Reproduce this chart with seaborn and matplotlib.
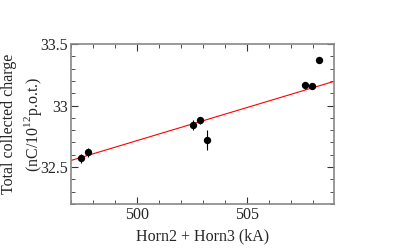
import numpy as np
import pandas as pd
import matplotlib
matplotlib.use('Agg')
import matplotlib.pyplot as plt
import seaborn as sns
from matplotlib.ticker import MultipleLocator

sns.set_style('ticks')
plt.rcParams['font.family'] = ['Liberation Serif', 'DejaVu Serif']
plt.rcParams['mathtext.fontset'] = 'custom'
plt.rcParams['mathtext.rm'] = 'Liberation Serif'

# horn current sum (kA) vs total collected charge
horn_current = [497.45, 497.77, 502.55, 502.87, 503.17, 507.65, 507.95, 508.25]
charge = [32.57, 32.62, 32.84, 32.88, 32.72, 33.165, 33.155, 33.37]
charge_err = [0.04, 0.035, 0.04, 0.03, 0.085, 0.03, 0.02, 0.015]

# linear fit shown in red
fit_slope = 0.0538
fit_at_500 = 32.715

df = pd.DataFrame({'current': horn_current, 'charge': charge, 'err': charge_err})

fig = plt.figure(figsize=(3.99, 2.49), dpi=100)
ax = fig.add_axes([0.178, 0.181, 0.659, 0.642])

xlim = (497.0, 508.95)
fit_x = np.array(xlim)
fit_df = pd.DataFrame({'x': fit_x, 'y': fit_at_500 + fit_slope * (fit_x - 500)})
sns.lineplot(data=fit_df, x='x', y='y', color='red', lw=0.8, ax=ax)

ax.errorbar(df['current'], df['charge'], yerr=df['err'], fmt='none',
            ecolor='black', elinewidth=0.8, capsize=0)
sns.scatterplot(data=df, x='current', y='charge', color='black', s=28,
                edgecolor='black', linewidth=0, ax=ax, zorder=3)

ax.set_xlim(*xlim)
ax.set_ylim(32.2, 33.5)
ax.xaxis.set_major_locator(MultipleLocator(5))
ax.xaxis.set_minor_locator(MultipleLocator(1))
ax.yaxis.set_major_locator(MultipleLocator(0.5))
ax.yaxis.set_minor_locator(MultipleLocator(0.1))
ax.set_yticks([32.5, 33.0, 33.5])
ax.set_yticklabels(['32.5', '33', '33.5'])

ax.tick_params(which='both', direction='in', top=True, right=True,
               labelsize=11.5, color='#333333')
ax.tick_params(which='major', length=5, width=0.8, pad=2)
ax.tick_params(which='minor', length=3, width=0.6)
for sp in ax.spines.values():
    sp.set_color('#888888')
    sp.set_linewidth(1.2)

ax.set_xlabel('Horn2 + Horn3 (kA)', fontsize=11.5, labelpad=4)
ax.set_ylabel('Total collected charge\n(nC/10$^{12}$p.o.t.)', fontsize=11.5,
              linespacing=1.35)
ax.yaxis.set_label_coords(-0.102, 0.5)

fig.savefig('out.png', dpi=100)
